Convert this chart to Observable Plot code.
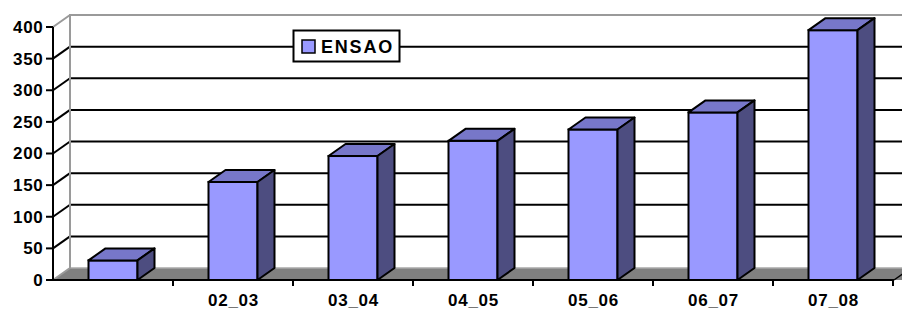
<!DOCTYPE html>
<html>
<head>
<meta charset="utf-8">
<script src="https://cdn.jsdelivr.net/npm/d3@7"></script>
<script src="https://cdn.jsdelivr.net/npm/@observablehq/plot@0.6"></script>
<style>
  html, body { margin: 0; padding: 0; background: white; }
  #chart { width: 902px; height: 311px; overflow: hidden; }
  #chart svg text {
    font-family: 'Liberation Sans', Arial, sans-serif !important;
    font-size: 17px !important;
    font-weight: bold !important;
    letter-spacing: 0.7px;
    fill: black;
  }
  #chart svg text.legend-label {
    font-size: 18px !important;
    letter-spacing: 1.8px;
    text-anchor: start;
  }
</style>
</head>
<body>
<div id="chart"></div>
<script>
// ---- data ----
const categories = ["", "02_03", "03_04", "04_05", "05_06", "06_07", "07_08"];
const values = [31, 155, 196, 220, 238, 265, 395];
const yTicks = [0, 50, 100, 150, 200, 250, 300, 350, 400];
const seriesName = "ENSAO";

const data = categories.map((c, i) => ({category: c, value: values[i]}));

// ---- styling ----
const DX = 17, DY = -12;      // 3D depth offset in pixels
const INSET = 35.5;           // bar inset in the band
const C = {front: "#9999ff", top: "#7777c9", side: "#4d4d80", floor: "#808080", wall: "#9a9a9a"};

function backdrop(index, scales, vals, dims) {
  const {x, y} = scales;
  const g = d3.create("svg:g");
  const [r0, r1] = x.range();
  const x0 = Math.min(r0, r1), x1 = Math.max(r0, r1);
  const W = dims.width;
  const yMax = d3.max(yTicks);
  const y0 = y(0), yT = y(yMax);
  // floor
  g.append("path")
    .attr("d", `M${x0},${y0}L${x1 + 20},${y0}L${x1 + 20 + DX},${y0 + DY}L${x0 + DX},${y0 + DY}Z`)
    .attr("fill", C.floor);
  g.append("line").attr("x1", x0 + DX).attr("x2", W).attr("y1", y0 + DY).attr("y2", y0 + DY)
    .attr("stroke", "#a8a8a8").attr("stroke-width", 1.5);
  // gridlines on back wall + side wall
  for (const t of yTicks) {
    if (t === 0 || t === yMax) continue;
    const yy = y(t);
    g.append("line").attr("x1", x0 + DX).attr("x2", W).attr("y1", yy + DY).attr("y2", yy + DY)
      .attr("stroke", "black").attr("stroke-width", 2);
    g.append("line").attr("x1", x0).attr("x2", x0 + DX).attr("y1", yy).attr("y2", yy + DY)
      .attr("stroke", "black").attr("stroke-width", 2);
  }
  // wall frame
  const frame = `M${x0},${y0}L${x0 + DX},${y0 + DY}L${x0 + DX},${yT + DY}L${W},${yT + DY}M${x0},${yT}L${x0 + DX},${yT + DY}`;
  g.append("path").attr("d", frame).attr("fill", "none").attr("stroke", C.wall).attr("stroke-width", 2);
  // right floor edge
  g.append("line").attr("x1", x1 + 1).attr("x2", x1 + 1 + DX * 0.6).attr("y1", y0).attr("y2", y0 + DY * 0.6)
    .attr("stroke", "black").attr("stroke-width", 1.5);
  // legend
  const lg = g.append("g");
  lg.append("rect").attr("x", 293.5).attr("y", 30.5).attr("width", 106).attr("height", 31)
    .attr("fill", "white").attr("stroke", "black").attr("stroke-width", 2);
  lg.append("rect").attr("x", 302).attr("y", 40).attr("width", 13).attr("height", 13)
    .attr("fill", C.front).attr("stroke", "black").attr("stroke-width", 1.5);
  lg.append("text").attr("class", "legend-label").attr("x", 321).attr("y", 53)
    .attr("text-anchor", "start").text(seriesName);
  return g.node();
}

function barSides(index, scales) {
  const {x, y} = scales;
  const g = d3.create("svg:g").attr("stroke", "black").attr("stroke-width", 2).attr("stroke-linejoin", "round");
  const bw = x.bandwidth();
  for (const d of data) {
    const xl = x(d.category) + INSET, xr = x(d.category) + bw - INSET;
    const yt = y(d.value), yb = y(0);
    g.append("path")
      .attr("d", `M${xl},${yt}L${xl + DX},${yt + DY}L${xr + DX},${yt + DY}L${xr},${yt}Z`)
      .attr("fill", C.top);
    g.append("path")
      .attr("d", `M${xr},${yt}L${xr + DX},${yt + DY}L${xr + DX},${yb + DY}L${xr},${yb}Z`)
      .attr("fill", C.side);
  }
  return g.node();
}

function axesLines(index, scales) {
  const {x, y} = scales;
  const g = d3.create("svg:g").attr("stroke", "black").attr("stroke-width", 2);
  const [r0, r1] = x.range();
  const x0 = Math.min(r0, r1), x1 = Math.max(r0, r1);
  const step = x.step();
  const yMax = d3.max(yTicks);
  g.append("line").attr("x1", x0).attr("x2", x0).attr("y1", y(yMax)).attr("y2", y(0) + 1);
  g.append("line").attr("x1", x0).attr("x2", x1 + 1).attr("y1", y(0)).attr("y2", y(0));
  for (const t of yTicks) {
    g.append("line").attr("x1", x0 - 7).attr("x2", x0).attr("y1", y(t)).attr("y2", y(t));
  }
  for (let i = 1; i <= categories.length; i++) {
    const xx = x0 + i * step;
    g.append("line").attr("x1", xx).attr("x2", xx).attr("y1", y(0)).attr("y2", y(0) + 6);
  }
  return g.node();
}

const chart = Plot.plot({
  width: 902,
  height: 311,
  marginLeft: 53,
  marginRight: 9,
  marginTop: 27,
  marginBottom: 31,
  style: {
    fontFamily: "'Liberation Sans', Arial, sans-serif",
    fontSize: "17px",
    fontWeight: "bold",
    background: "white",
    color: "black"
  },
  x: {domain: categories, padding: 0, tickSize: 0, tickPadding: 13, label: null},
  y: {domain: [0, 400], ticks: 8, tickSize: 0, tickPadding: 10, label: null},
  marks: [
    backdrop,
    Plot.barY(data, {x: "category", y: "value", fill: C.front, stroke: "black", strokeWidth: 2,
                     insetLeft: INSET, insetRight: INSET}),
    barSides,
    axesLines
  ]
});
document.getElementById("chart").appendChild(chart);
</script>
</body>
</html>
